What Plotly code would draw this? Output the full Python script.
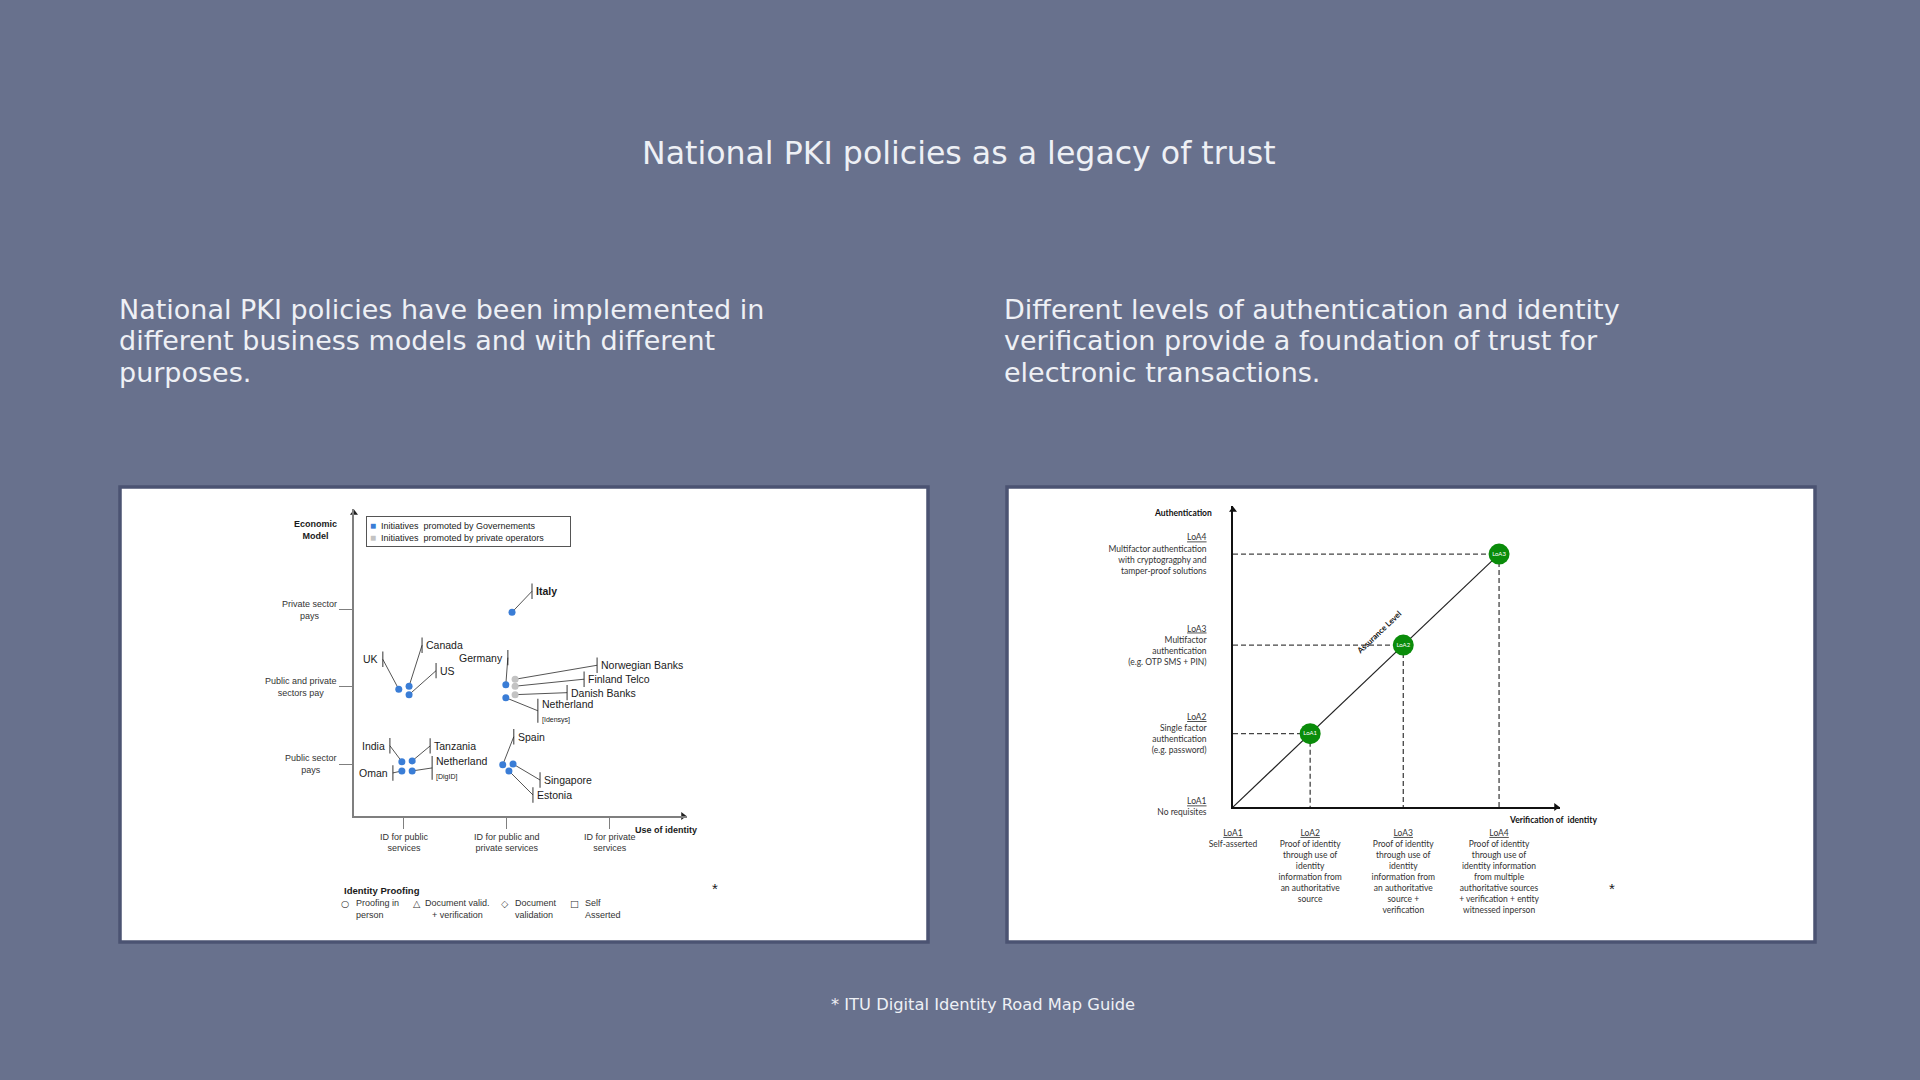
import plotly.graph_objects as go

W, H = 1920, 1080


def px(x):
    return x / W


def py(y):
    return 1 - y / H


# ======================= DATA =======================
# Left chart: national PKI initiatives
econ_vals = [1, 2, 3]
econ_labels = ["Public sector<br>pays", "Public and private<br>sectors pay", "Private sector<br>pays"]
use_vals = [1, 2, 3]
use_labels = ["ID for public<br>services", "ID for public and<br>private services", "ID for private<br>services"]

pki_names = ["<b>Italy</b>", "UK", "Canada", "US", "Germany", "Netherland", "Norwegian Banks",
             "Finland Telco", "Danish Banks", "India", "Tanzania", "Oman", "Netherland",
             "Spain", "Singapore", "Estonia"]
pki_notes = ["", "", "", "", "", "[Idensys]", "", "", "", "", "", "", "[DigID]", "", "", ""]
pki_use = [2.05, 0.95, 1.05, 1.05, 1.99, 1.99, 2.08, 2.08, 2.08, 0.98, 1.08, 0.98, 1.08, 1.96, 2.06, 2.02]
pki_econ = [2.97, 1.97, 2.01, 1.90, 2.03, 1.86, 2.10, 2.01, 1.90, 1.03, 1.04, 0.91, 0.91, 0.99, 1.00, 0.91]
pki_promoter = ["gov", "gov", "gov", "gov", "gov", "gov", "private", "private", "private",
                "gov", "gov", "gov", "gov", "gov", "gov", "gov"]
promoter_keys = ["gov", "private"]
promoter_names = ["Initiatives  promoted by Governements", "Initiatives  promoted by private operators"]

proofing_symbols = ["○", "△", "◇", "□"]
proofing_labels = ["Proofing in<br>person", "Document valid.<br>+ verification", "Document<br>validation", "Self<br>Asserted"]

# Right chart: levels of assurance
loa_levels = ["LoA1", "LoA2", "LoA3", "LoA4"]
loa_pos = [0, 0.29, 0.64, 1.0]
auth_desc = ["No requisites",
             "Single factor<br>authentication<br>(e.g. password)",
             "Multifactor<br>authentication<br>(e.g. OTP SMS + PIN)",
             "Multifactor authentication<br>with cryptogragphy and<br>tamper-proof solutions"]
verif_desc = ["Self-asserted",
              "Proof of identity<br>through use of<br>identity<br>information from<br>an authoritative<br>source",
              "Proof of identity<br>through use of<br>identity<br>information from<br>an authoritative<br>source +<br>verification",
              "Proof of identity<br>through use of<br>identity information<br>from multiple<br>authoritative sources<br>+ verification + entity<br>witnessed inperson"]
assurance_labels = ["LoA1", "LoA2", "LoA3"]
assurance_auth = [1, 2, 3]   # index into loa_pos (authentication level)
assurance_verif = [1, 2, 3]  # index into loa_pos (verification level)

# Slide texts
slide_title = "National PKI policies as a legacy of trust"
left_intro = ["National PKI policies have been implemented in",
              "different business models and with different",
              "purposes."]
right_intro = ["Different levels of authentication and identity",
               "verification provide a foundation of trust for",
               "electronic transactions."]
source_note = "* ITU Digital Identity Road Map Guide"

# ======================= STYLE / LAYOUT =======================
BG = "#68718d"
PANEL_LINE = "#4b5372"
TXT = "#eef0f5"
BLUE = "#3a7dd6"
GREY = "#c3c3c3"
GREEN = "#0a8c0a"
LFONT = "Liberation Sans"
RFONT = "Lato"
SFONT = "DejaVu Sans"

# left plot-area geometry (pixels) and axis ranges
L_X0, L_X1, L_Y0, L_Y1 = 354, 687, 509, 816
L_XR = [0.515, 3.75]
L_YR = [0.325, 4.31]
lxs = (L_X1 - L_X0) / (L_XR[1] - L_XR[0])
lys = (L_Y1 - L_Y0) / (L_YR[1] - L_YR[0])

R_X0, R_X1, R_Y0, R_Y1 = 1233, 1560, 506, 807
R_XR = [0, 1.229]
R_YR = [0, 1.19]
rxs = (R_X1 - R_X0) / (R_XR[1] - R_XR[0])
rys = (R_Y1 - R_Y0) / (R_YR[1] - R_YR[0])

# label bar offsets from each point (pixels) and text side
label_dx = [20, -16, 13, 27, 2, 32, 82, 69, 52, -12, 18, -9, 20, 11, 27, 24]
label_dy = [-21, -30, -41, -24, -27, 13, -14, -7, -2, -16, -15, 2, -3, -28, 16, 24]
label_side = ["r", "l", "r", "r", "l", "r", "r", "r", "r", "l", "r", "l", "r", "r", "r", "r"]

fig = go.Figure()

# ---------- left chart ----------
bar_x, bar_y, bar_sz = [], [], []
lead_x, lead_y = [], []
for i in range(len(pki_names)):
    bx = pki_use[i] + label_dx[i] / lxs
    by = pki_econ[i] - label_dy[i] / lys
    lead_x += [pki_use[i], bx, None]
    lead_y += [pki_econ[i], by, None]
    bar_x.append(bx)
    bar_y.append(by)
    bar_sz.append(17 if pki_notes[i] else 11)

fig.add_trace(go.Scatter(x=lead_x, y=lead_y, mode="lines", line=dict(color="#555555", width=1),
                         showlegend=False, hoverinfo="skip"))
fig.add_trace(go.Scatter(x=bar_x, y=bar_y, mode="markers", cliponaxis=False,
                         marker=dict(symbol="line-ns", size=bar_sz, line=dict(color="#222222", width=1.3)),
                         showlegend=False, hoverinfo="skip"))
for key, col, nm in zip(promoter_keys, [BLUE, GREY], promoter_names):
    xs = [pki_use[i] for i in range(len(pki_names)) if pki_promoter[i] == key]
    ys = [pki_econ[i] for i in range(len(pki_names)) if pki_promoter[i] == key]
    fig.add_trace(go.Scatter(x=xs, y=ys, mode="markers", name=nm, marker=dict(color=col, size=7),
                             showlegend=False, cliponaxis=False))

# axis arrows (left)
fig.add_trace(go.Scatter(x=[L_XR[0], L_XR[1] - 4 / lxs], y=[L_YR[1] - 4 / lys, L_YR[0]], mode="markers",
                         cliponaxis=False, marker=dict(symbol=["triangle-up", "triangle-right"], size=7,
                                                       color="#222222"),
                         showlegend=False, hoverinfo="skip"))

annotations = []
for i in range(len(pki_names)):
    txt = pki_names[i]
    if pki_notes[i]:
        txt += "<br><span style='font-size:7px'>" + pki_notes[i] + "</span>"
    right = label_side[i] == "r"
    annotations.append(dict(x=bar_x[i], y=bar_y[i], xref="x", yref="y", text=txt, showarrow=False,
                            xanchor="left" if right else "right", yanchor="middle",
                            xshift=2 if right else -3, align="left",
                            font=dict(family=LFONT, size=10.5, color="#1a1a1a")))
for v, lab in zip(econ_vals, econ_labels):
    annotations.append(dict(x=L_XR[0], y=v, xref="x", yref="y", text=lab, showarrow=False,
                            xanchor="right", yanchor="middle", xshift=-15, align="center",
                            font=dict(family=LFONT, size=9, color="#333333")))

# promoter key (boxed)
key_txt = "<br>".join("<span style='color:%s;font-size:10px'>■</span>  %s" % (c, n)
                      for c, n in zip([BLUE, GREY], promoter_names))
annotations.append(dict(x=px(366), y=py(516), xref="paper", yref="paper", text=key_txt, showarrow=False,
                        xanchor="left", yanchor="top", align="left", bordercolor="#555555", borderwidth=1,
                        borderpad=3, bgcolor="white", width=197,
                        font=dict(family=LFONT, size=9, color="#222222")))

annotations += [
    dict(x=px(315), y=py(530), xref="paper", yref="paper", text="<b>Economic<br>Model</b>",
         showarrow=False, xanchor="center", yanchor="middle", align="center",
         font=dict(family=LFONT, size=9, color="#1a1a1a")),
    dict(x=px(633), y=py(830), xref="paper", yref="paper", text="<b>Use of identity</b>",
         showarrow=False, xanchor="left", yanchor="middle",
         font=dict(family=LFONT, size=9, color="#1a1a1a")),
    dict(x=px(342), y=py(890), xref="paper", yref="paper", text="<b>Identity Proofing</b>",
         showarrow=False, xanchor="left", yanchor="middle",
         font=dict(family=LFONT, size=9.5, color="#1a1a1a")),
    dict(x=px(715), y=py(899), xref="paper", yref="paper", text="*", showarrow=False,
         font=dict(family=LFONT, size=15, color="#1a1a1a")),
    dict(x=px(1617), y=py(899), xref="paper", yref="paper", text="*", showarrow=False,
         font=dict(family=LFONT, size=15, color="#1a1a1a")),
]
sym_x = [345, 417, 505, 574]
lab_x = [354, 423, 513, 583]
lab_align = ["left", "center", "left", "left"]
for s, lab, sx, lx, al in zip(proofing_symbols, proofing_labels, sym_x, lab_x, lab_align):
    annotations.append(dict(x=px(sx), y=py(903), xref="paper", yref="paper", text=s, showarrow=False,
                            xanchor="center", yanchor="middle",
                            font=dict(family="DejaVu Sans", size=9.5, color="#333333")))
    annotations.append(dict(x=px(lx), y=py(896), xref="paper", yref="paper", text=lab, showarrow=False,
                            xanchor="left", yanchor="top", align=al,
                            font=dict(family=LFONT, size=9, color="#333333")))

# ---------- right chart ----------
dash_x, dash_y = [], []
cx = [loa_pos[v] for v in assurance_verif]
cy = [loa_pos[a] for a in assurance_auth]
for x0, y0 in zip(cx, cy):
    dash_x += [0, x0, None, x0, x0, None]
    dash_y += [y0, y0, None, y0, 0, None]
fig.add_trace(go.Scatter(x=dash_x, y=dash_y, xaxis="x2", yaxis="y2", mode="lines",
                         line=dict(color="#444444", width=1.3, dash="5px,3px"), showlegend=False,
                         hoverinfo="skip"))
fig.add_trace(go.Scatter(x=[0] + cx, y=[0] + cy, xaxis="x2", yaxis="y2", mode="lines",
                         line=dict(color="#222222", width=1.2), showlegend=False, hoverinfo="skip"))
fig.add_trace(go.Scatter(x=cx, y=cy, xaxis="x2", yaxis="y2", mode="markers+text", cliponaxis=False,
                         text=assurance_labels, textposition="middle center",
                         textfont=dict(family=RFONT, size=6, color="white"),
                         marker=dict(color=GREEN, size=21), showlegend=False))
# detached tick dashes
fig.add_trace(go.Scatter(x=[-14.5 / rxs] * 4, y=loa_pos, xaxis="x2", yaxis="y2", mode="markers",
                         cliponaxis=False,
                         marker=dict(symbol="line-ew", size=11, line=dict(color="#222222", width=1.5)),
                         showlegend=False, hoverinfo="skip"))
fig.add_trace(go.Scatter(x=loa_pos, y=[-10 / rys] * 4, xaxis="x2", yaxis="y2", mode="markers",
                         cliponaxis=False,
                         marker=dict(symbol="line-ns", size=10, line=dict(color="#222222", width=1.5)),
                         showlegend=False, hoverinfo="skip"))
fig.add_trace(go.Scatter(x=[R_XR[0], R_XR[1] - 4 / rxs], y=[R_YR[1] - 4 / rys, R_YR[0]], xaxis="x2",
                         yaxis="y2", mode="markers", cliponaxis=False,
                         marker=dict(symbol=["triangle-up", "triangle-right"], size=7, color="#111111"),
                         showlegend=False, hoverinfo="skip"))

annotations += [
    dict(x=px(1214), y=py(513), xref="paper", yref="paper", text="<b>Authentication</b>", showarrow=False,
         xanchor="right", yanchor="middle", font=dict(family=RFONT, size=8.5, color="#111111")),
    dict(x=px(1507), y=py(820), xref="paper", yref="paper", text="<b>Verification of  identity</b>",
         showarrow=False, xanchor="left", yanchor="middle", font=dict(family=RFONT, size=8.5, color="#111111")),
    dict(x=0.55, y=0.69, xref="x2", yref="y2", text="<b>Assurance Level</b>", showarrow=False,
         textangle=-43.6, font=dict(family=RFONT, size=8, color="#111111")),
]

# ---------- slide texts ----------
annotations.append(dict(x=px(959), y=py(153), xref="paper", yref="paper", text=slide_title,
                        showarrow=False, xanchor="center", yanchor="middle",
                        font=dict(family=SFONT, size=31.6, color=TXT)))
line_y = [309, 340.5, 372]
for lines, x0 in [(left_intro, 117), (right_intro, 1002)]:
    for ln, yy in zip(lines, line_y):
        annotations.append(dict(x=px(x0), y=py(yy), xref="paper", yref="paper", text=ln,
                                showarrow=False, xanchor="left", yanchor="middle",
                                font=dict(family=SFONT, size=27, color=TXT)))
annotations.append(dict(x=px(983), y=py(1004), xref="paper", yref="paper", text=source_note,
                        showarrow=False, xanchor="center", yanchor="middle",
                        font=dict(family=SFONT, size=16.3, color=TXT)))

shapes = [
    dict(type="rect", xref="paper", yref="paper", x0=px(120), x1=px(928), y0=py(487), y1=py(942),
         fillcolor="white", line=dict(color=PANEL_LINE, width=3.5), layer="below"),
    dict(type="rect", xref="paper", yref="paper", x0=px(1007), x1=px(1815), y0=py(487), y1=py(942),
         fillcolor="white", line=dict(color=PANEL_LINE, width=3.5), layer="below"),
]

fig.update_layout(
    width=W, height=H, autosize=False, margin=dict(l=0, r=0, t=0, b=0, pad=0),
    paper_bgcolor=BG, plot_bgcolor="rgba(0,0,0,0)",
    shapes=shapes, annotations=annotations,
    showlegend=False,
    xaxis=dict(domain=[px(L_X0), px(L_X1)], range=L_XR, anchor="y", showgrid=False, zeroline=False,
               automargin=False,
               showline=True, linecolor="#7f7f7f", linewidth=1.5, tickvals=use_vals, ticktext=use_labels,
               ticks="outside", ticklen=11, tickcolor="#7f7f7f", tickwidth=1.3,
               tickfont=dict(family=LFONT, size=9, color="#333333"), fixedrange=True),
    yaxis=dict(domain=[py(L_Y1), py(L_Y0)], range=L_YR, anchor="x", showgrid=False, zeroline=False,
               automargin=False,
               showline=True, linecolor="#7f7f7f", linewidth=1.5, tickvals=econ_vals, ticks="outside",
               ticklen=13, tickcolor="#7f7f7f", tickwidth=1.3, showticklabels=False, fixedrange=True),
    xaxis2=dict(domain=[px(R_X0), px(R_X1)], range=R_XR, anchor="y2", showgrid=False, zeroline=False,
                automargin=False,
                showline=True, linecolor="#111111", linewidth=1.5, tickvals=loa_pos,
                ticktext=["<u>" + l + "</u><br>" + d for l, d in zip(loa_levels, verif_desc)],
                ticks="", ticklabelstandoff=17,
                tickfont=dict(family=RFONT, size=8.5, color="#333333"), fixedrange=True),
    yaxis2=dict(domain=[py(R_Y1), py(R_Y0)], range=R_YR, anchor="x2", showgrid=False, zeroline=False,
                automargin=False,
                showline=True, linecolor="#111111", linewidth=1.5, tickvals=loa_pos,
                ticktext=["<u>" + l + "</u><br>" + d for l, d in zip(loa_levels, auth_desc)],
                ticks="", ticklabelstandoff=23,
                tickfont=dict(family=RFONT, size=8.5, color="#333333"), fixedrange=True),
)

fig.write_html("out.html", config={"displayModeBar": False})
